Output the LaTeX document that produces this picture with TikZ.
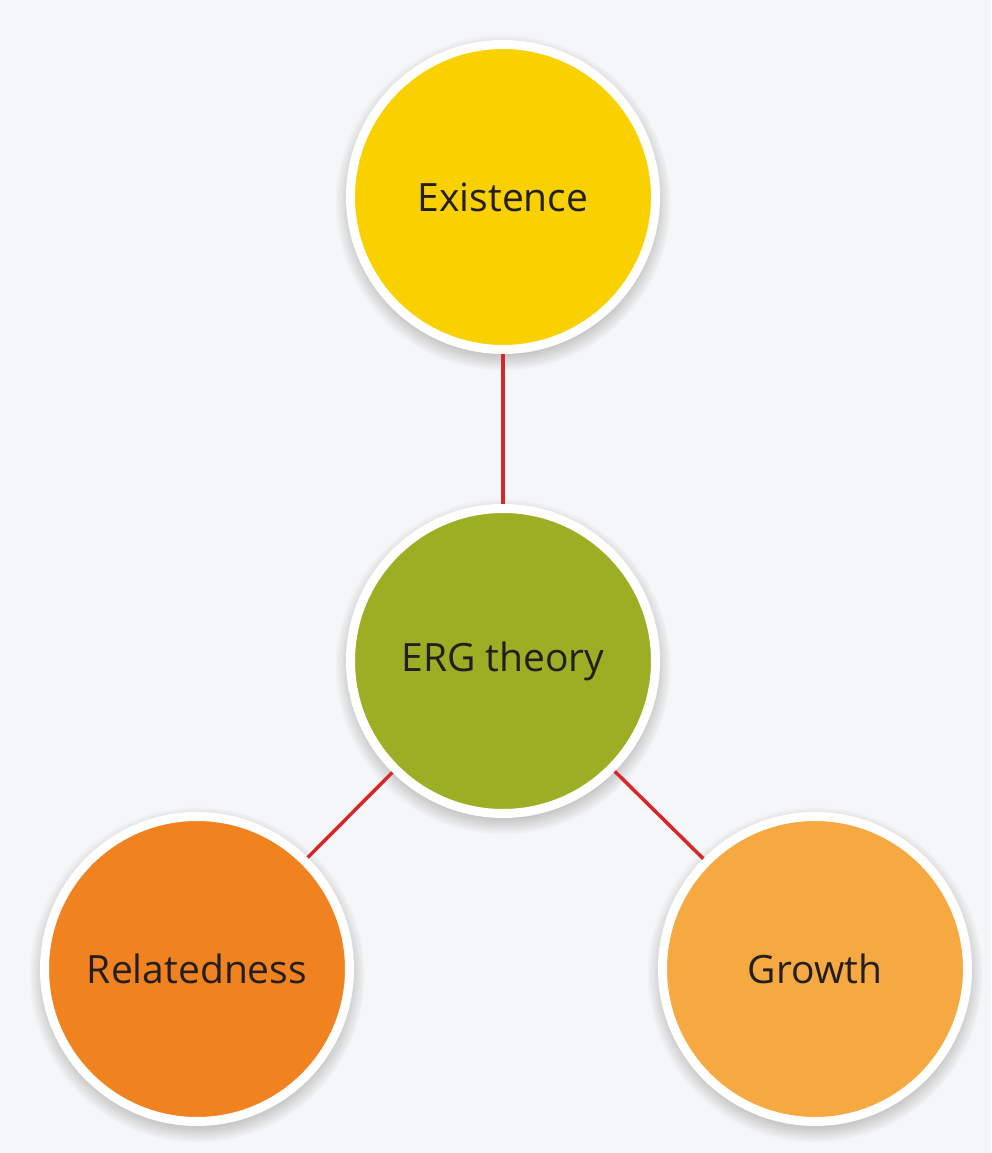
\documentclass[tikz,border=0pt]{standalone}
\usepackage{fontspec}
\setmainfont{Open Sans}
\usetikzlibrary{shadows}
\definecolor{bgc}{HTML}{F5F6F7}
\definecolor{yel}{HTML}{F9D100}
\definecolor{grn}{HTML}{9CAF24}
\definecolor{org}{HTML}{F0821F}
\definecolor{lor}{HTML}{F7A941}
\definecolor{lnk}{HTML}{D9262B}
\definecolor{txt}{HTML}{231F20}
\tikzset{
  bubble/.style={circle, draw=white, line width=9pt, minimum size=305pt, inner sep=0pt,
    text=txt, font=\fontsize{39}{42}\selectfont,
    circular drop shadow={shadow xshift=0pt, shadow yshift=-5pt, shadow scale=1.1, opacity=0.6}},
  link/.style={draw=lnk, line width=3.5pt}
}
\begin{document}
\begin{tikzpicture}[x=1pt,y=1pt]
\fill[bgc] (0,0) rectangle (991,1153);
\useasboundingbox (0,0) rectangle (991,1153);
\node[bubble, fill=yel] (E) at (503,956) {Existence};
\node[bubble, fill=grn] (C) at (503,492) {ERG theory};
\node[bubble, fill=org] (R) at (197,184) {Relatedness};
\node[bubble, fill=lor] (G) at (815,184) {Growth};
\draw[link] (E) -- (C);
\draw[link] (C) -- (R);
\draw[link] (C) -- (G);
\end{tikzpicture}
\end{document}
